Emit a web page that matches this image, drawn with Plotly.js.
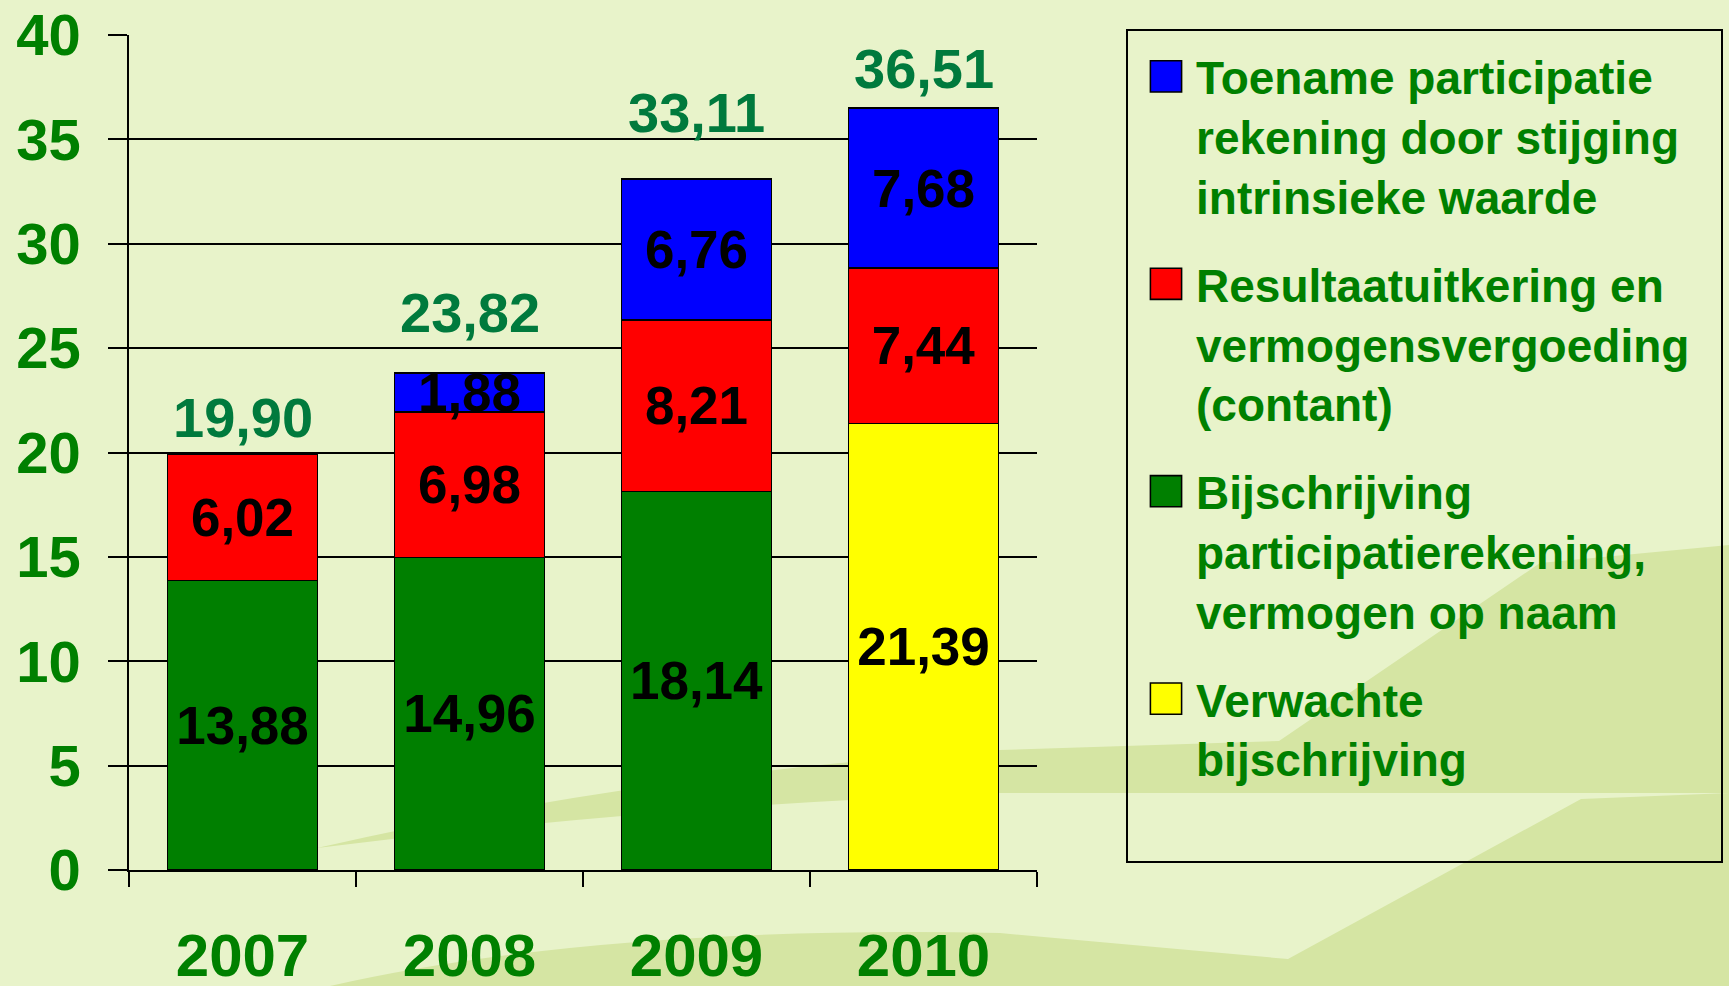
<!DOCTYPE html>
<html>
<head>
<meta charset="utf-8">
<script src="https://cdn.plot.ly/plotly-3.0.1.min.js"></script>
<style>
  html, body { margin: 0; padding: 0; background: #e8f3ca; }
  #chart { width: 1729px; height: 986px; }
</style>
</head>
<body>
<div id="chart"></div>
<script>
// Jaren op de x-as
const years = ["2007", "2008", "2009", "2010"];

// Waarden per segment (null = geen segment)
const bijschrijving = [13.88, 14.96, 18.14, null];
const verwacht = [null, null, null, 21.39];
const resultaat = [6.02, 6.98, 8.21, 7.44];
const toename = [null, 1.88, 6.76, 7.68];

// Totalen boven de staven
const totals = [19.90, 23.82, 33.11, 36.51];

// Legendateksten
const namesBlue = "Toename participatie<br>rekening door stijging<br>intrinsieke waarde";
const namesRed = "Resultaatuitkering en<br>vermogensvergoeding<br>(contant)";
const namesGreen = "Bijschrijving<br>participatierekening,<br>vermogen op naam";
const namesYellow = "Verwachte<br>bijschrijving";

const W = 1729, H = 986;
const M = { l: 129, r: 692, t: 35, b: 116 };
const legendFont = 46;
const legendLineH = legendFont * 1.3;
// extra lift (px) of each total label, as placed in the original slide
const totalLift = [4, 27, 33, 6];

const fmt = v => (v == null ? "" : v.toFixed(2).replace(".", ","));

function barTrace(vals, name, color, rank) {
  return {
    type: "bar",
    x: years,
    y: vals,
    name: name,
    legendgroup: name,
    legendrank: rank,
    marker: { color: color, line: { color: "#000000", width: 1.5 } },
    text: vals.map(fmt),
    textposition: "inside",
    insidetextanchor: "middle",
    constraintext: "none",
    textangle: 0,
    insidetextfont: { family: "Liberation Sans, Arial, sans-serif", size: 53, color: "#000000", weight: "bold" },
    hoverinfo: "x+y+name"
  };
}

const data = [
  barTrace(bijschrijving, namesGreen, "#007f00", 3),
  barTrace(verwacht, namesYellow, "#ffff00", 4),
  barTrace(resultaat, namesRed, "#ff0000", 2),
  barTrace(toename, namesBlue, "#0000ff", 1)
];

// pixel -> paper helper for the decorative shapes and the legend frame
const pw = W - M.l - M.r, ph = H - M.t - M.b;
const px = x => (x - M.l) / pw;
const py = y => (H - M.b - y) / ph;
function pathPx(cmds) {
  return cmds.map(c => c[0] + c.slice(1).map((v, i) => (i % 2 === 0 ? px(v) : py(v))).join(",")).join(" ") + " Z";
}

const swoosh = "#d5e5a3";
const shapes = [
  // background swoosh (decoration): upper right area + thin band to the left
  {
    type: "path", xref: "paper", yref: "paper", layer: "below", line: { width: 0 },
    fillcolor: swoosh,
    path: pathPx([["M", 1729, 545], ["L", 1540, 563], ["L", 1279, 741], ["L", 1000, 750],
      ["Q", 650, 772, 317, 848], ["Q", 650, 806, 1000, 793], ["L", 1729, 793]])
  },
  // lower band under the light wedge
  {
    type: "path", xref: "paper", yref: "paper", layer: "below", line: { width: 0 },
    fillcolor: swoosh,
    path: pathPx([["M", 1581, 799], ["L", 1729, 793], ["L", 1729, 986], ["L", 330, 986],
      ["Q", 600, 925, 1000, 933], ["L", 1288, 959]])
  },
  // legend frame
  {
    type: "rect", xref: "paper", yref: "paper", layer: "above",
    x0: px(1127), x1: px(1722), y0: py(862), y1: py(30),
    line: { color: "#000000", width: 2 }, fillcolor: "rgba(0,0,0,0)"
  }
];

// totals above each bar (x given as category index)
const annotations = years.map((yr, i) => ({
  x: i, y: totals[i], xref: "x", yref: "y",
  text: fmt(totals[i]), showarrow: false,
  yanchor: "bottom", yshift: totalLift[i],
  font: { family: "Liberation Sans, Arial, sans-serif", size: 56, color: "#007a3d", weight: "bold" }
}));

const layout = {
  width: W, height: H,
  margin: M,
  paper_bgcolor: "#e8f3ca",
  plot_bgcolor: "rgba(0,0,0,0)",
  barmode: "stack",
  bargap: 0.34,
  showlegend: true,
  font: { family: "Liberation Sans, Arial, sans-serif", color: "#008000" },
  xaxis: {
    type: "category",
    categoryorder: "array", categoryarray: years,
    range: [-0.5, 3.5],
    tickson: "boundaries",
    ticks: "outside", ticklen: 15, tickwidth: 2, tickcolor: "#000000",
    showline: true, linecolor: "#000000", linewidth: 2,
    showgrid: false,
    ticklabelstandoff: 32,
    tickangle: 0,
    tickfont: { size: 60, color: "#008000", weight: "bold" },
    fixedrange: true
  },
  yaxis: {
    range: [0, 40], dtick: 5,
    ticks: "outside", ticklen: 19, tickwidth: 2, tickcolor: "#000000",
    showline: true, linecolor: "#000000", linewidth: 1.5,
    showgrid: true, gridcolor: "#000000", gridwidth: 2,
    zeroline: false,
    ticklabelstandoff: 16,
    tickfont: { size: 58, color: "#008000", weight: "bold" },
    fixedrange: true
  },
  legend: {
    xref: "container", yref: "container",
    x: 1136 / W, y: 1 - 40 / H, xanchor: "left", yanchor: "top",
    bgcolor: "rgba(0,0,0,0)", borderwidth: 0,
    traceorder: "grouped", tracegroupgap: 25,
    itemwidth: 50,
    maxheight: 940,
    font: { size: legendFont, color: "#008000", weight: "bold" }
  },
  shapes: shapes,
  annotations: annotations
};

// move and enlarge the legend squares so they sit next to the first text line
function fixLegend(gd) {
  gd.querySelectorAll(".legend .traces").forEach(tr => {
    const n = tr.querySelectorAll(".legendtext .line").length || 1;
    const dy = -legendLineH * (n - 1) / 2;
    tr.querySelectorAll(".legendpoints path").forEach(p => {
      if (p.dataset.base === undefined) p.dataset.base = p.getAttribute("transform") || "";
      p.setAttribute("transform", p.dataset.base + " translate(0," + dy + ") scale(2.6)");
      p.style.strokeWidth = "0.6px";
    });
  });
}

const gd = document.getElementById("chart");
Plotly.newPlot(gd, data, layout, { displayModeBar: false, responsive: false }).then(() => {
  fixLegend(gd);
  gd.on("plotly_afterplot", () => fixLegend(gd));
});
</script>
</body>
</html>
